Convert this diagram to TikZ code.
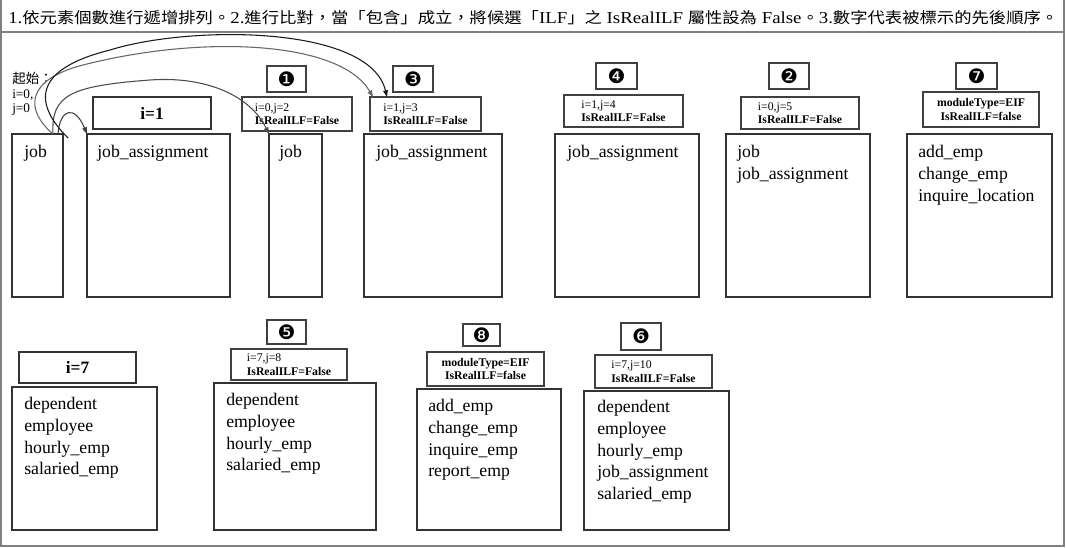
\documentclass[tikz,border=0pt]{standalone}
\usepackage{fontspec}
\setmainfont{Liberation Serif}
\newfontfamily\cjk[Scale=0.92]{Noto Sans CJK TC}
\newfontfamily\symf{DejaVu Sans}
\usetikzlibrary{arrows.meta,calc}
\newlength\pxu \setlength\pxu{0.75pt}
\newcommand\mkbox[7]{\node[#1,minimum width={(#5-#3)*0.75pt},minimum height={(#6-#4)*0.75pt}] (#2) at ({(#3+#5)/2},{(#4+#6)/2}) {#7};}
\begin{document}
\begin{tikzpicture}[x=0.75pt,y=-0.75pt,
  bigbox/.style={draw=black!80, line width=0.8pt, inner sep=0pt, outer sep=0pt},
  lblbox/.style={draw=black!75, line width=1pt, inner sep=0pt, outer sep=0pt, align=left, font=\fontsize{8.8}{10}\selectfont},
  lblboxc/.style={lblbox, align=center},
  numbox/.style={draw=black!75, line width=1pt, inner sep=0pt, outer sep=0pt, font=\symf\fontsize{15}{15}\selectfont},
  ibox/.style={draw=black!80, line width=1pt, inner sep=0pt, outer sep=0pt, font=\bfseries\fontsize{13}{15}\selectfont},
  items/.style={anchor=north west, inner sep=0pt, align=left, font=\fontsize{13.3}{16.3}\selectfont},
  conn/.style={line width=0.8pt, -{Triangle[length=5pt,width=3.5pt]}},
  frame/.style={draw=black!50, line width=1.5pt}]
\useasboundingbox (0,0) rectangle (1066,547);
\fill[white] (0,0) rectangle (1066,547);
% frame
\draw[frame] (1,0) -- (1,545.5) -- (1064,545.5) -- (1064,0);
\draw[frame] (1,32) -- (1064,32);
% title
\node[anchor=base west, inner sep=0pt] (title) at (8,23) {\resizebox{1050\pxu}{\height}{\fontsize{12.5}{14}\selectfont 1.{\cjk 依元素個數進行遞增排列。}2.{\cjk 進行比對，當「包含」成立，將候選「}ILF{\cjk 」之} IsRealILF {\cjk 屬性設為} False{\cjk 。}3.{\cjk 數字代表被標示的先後順序。}}};
% start label
\node[anchor=north west, inner sep=0pt, align=left, font=\fontsize{10}{11}\selectfont] (start) at (12,72) {{\cjk\fontsize{11}{11}\selectfont 起始：}\\i=0,\\j=0};
% row 1 big boxes
\mkbox{bigbox}{b1}{12}{134}{63}{297}{}
\mkbox{bigbox}{b2}{87}{134}{230}{297}{}
\mkbox{bigbox}{b3}{269}{134}{322}{297}{}
\mkbox{bigbox}{b4}{364}{134}{502}{297}{}
\mkbox{bigbox}{b5}{555}{134}{699}{297}{}
\mkbox{bigbox}{b6}{726}{134}{870}{297}{}
\mkbox{bigbox}{b7}{907}{134}{1052}{297}{}
\node[items] (t1) at (24,145) {job};
\node[items] (t2) at (97,145) {job\_assignment};
\node[items] (t3) at (279,145) {job};
\node[items] (t4) at (376,145) {job\_assignment};
\node[items] (t5) at (567,145) {job\_assignment};
\node[items] (t6) at (737,145) {job\\job\_assignment};
\node[items] (t7) at (918,145) {add\_emp\\change\_emp\\inquire\_location};
% row 1 headers
\mkbox{ibox}{i1}{93}{97}{211}{129}{i=1}
\mkbox{lblbox}{lb1}{242}{97}{352}{131}{i=0,j=2\\\textbf{IsRealILF=False}}
\mkbox{lblbox}{lb3}{370}{97}{481}{131}{i=1,j=3\\\textbf{IsRealILF=False}}
\mkbox{lblbox}{lb4}{564}{95}{683}{127}{i=1,j=4\\\textbf{IsRealILF=False}}
\mkbox{lblbox}{lb2}{741}{97}{859}{129}{i=0,j=5\\\textbf{IsRealILF=False}}
\mkbox{lblboxc}{lb7}{923}{92}{1039}{127}{\textbf{moduleType=EIF}\\\textbf{IsRealILF=false}}
\mkbox{numbox}{n1}{267}{66}{306}{92}{❶}
\mkbox{numbox}{n3}{393}{66}{433}{92}{❸}
\mkbox{numbox}{n4}{596}{63}{637}{89}{❹}
\mkbox{numbox}{n2}{769}{63}{809}{89}{❷}
\mkbox{numbox}{n7}{956}{63}{997}{89}{❼}
% row 2
\mkbox{ibox}{i7}{19}{352}{136}{383}{i=7}
\mkbox{bigbox}{r1}{12}{387}{157}{530}{}
\mkbox{bigbox}{r2}{214}{383}{376}{530}{}
\mkbox{bigbox}{r3}{417}{389}{561}{530}{}
\mkbox{bigbox}{r4}{584}{391}{729}{530}{}
\mkbox{lblbox}{lb5}{231}{349}{347}{380}{i=7,j=8\\\textbf{IsRealILF=False}}
\mkbox{lblboxc}{lb8}{427}{352}{544}{386}{\textbf{moduleType=EIF}\\\textbf{IsRealILF=false}}
\mkbox{lblbox}{lb6}{595}{355}{712}{388}{i=7,j=10\\\textbf{IsRealILF=False}}
\mkbox{numbox}{n5}{267}{320}{306}{344}{❺}
\mkbox{numbox}{n8}{463}{324}{500}{346}{❽}
\mkbox{numbox}{n6}{621}{323}{661}{350}{❻}
\node[items] (u1) at (24,397) {dependent\\employee\\hourly\_emp\\salaried\_emp};
\node[items] (u2) at (226,393) {dependent\\employee\\hourly\_emp\\salaried\_emp};
\node[items] (u3) at (428,399) {add\_emp\\change\_emp\\inquire\_emp\\report\_emp};
\node[items] (u4) at (597,400) {dependent\\employee\\hourly\_emp\\job\_assignment\\salaried\_emp};
% connectors
\draw[conn, draw=black!75] ($(b1.north east)+(-5,0)$) .. controls (60,108) and (75,105) .. (b2.north west);
\draw[conn, draw=black!70] ($(b1.north east)+(-10,0)$) .. controls (51,95) and (70,86) .. (150,80) .. controls (205,76) and (250,95) .. (b3.north west);
\draw[conn, draw=black!60] ($(b1.north east)+(-10,0)$) .. controls (25,110) and (25,80) .. (83,65) .. controls (200,35) and (340,40) .. ($(lb3.north west)+(3,0)$);
\draw[conn, draw=black!90] ($(b1.north east)+(5,4)$) .. controls (35,105) and (30,70) .. (110,50) .. controls (190,25) and (370,25) .. ($(lb3.north west)+(17,0)$);
\end{tikzpicture}
\end{document}
